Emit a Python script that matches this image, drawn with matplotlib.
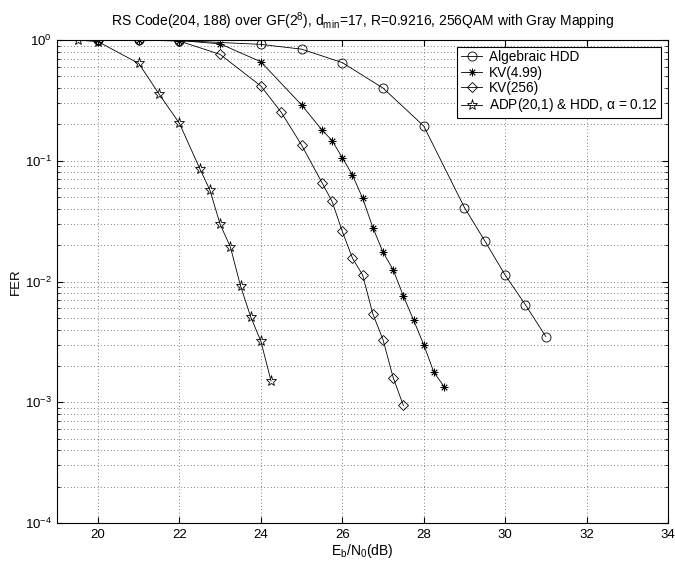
import matplotlib.pyplot as plt
from matplotlib.ticker import LogLocator, NullFormatter

plt.rcParams['font.family'] = ['Liberation Sans', 'DejaVu Sans']
plt.rcParams['mathtext.fontset'] = 'custom'
plt.rcParams['mathtext.rm'] = 'Liberation Sans'
plt.rcParams['mathtext.it'] = 'Liberation Sans'

# Algebraic HDD
snr_hdd = [20, 21, 22, 24, 25, 26, 27, 28, 29, 29.5, 30, 30.5, 31]
fer_hdd = [1.0, 1.0, 0.99, 0.92, 0.84, 0.65, 0.40, 0.194, 0.041, 0.0217, 0.0113, 0.0064, 0.0035]

# KV(4.99)
snr_kv5 = [20, 21, 22, 23, 24, 25, 25.5, 25.75, 26, 26.25, 26.5, 26.75, 27, 27.25, 27.5, 27.75, 28, 28.25, 28.5]
fer_kv5 = [1.0, 1.0, 0.99, 0.93, 0.66, 0.29, 0.18, 0.147, 0.106, 0.076, 0.049, 0.028, 0.0175, 0.0125,
           0.0076, 0.0048, 0.0030, 0.00177, 0.00135]

# KV(256)
snr_kv256 = [20, 21, 22, 23, 24, 24.5, 25, 25.5, 25.75, 26, 26.25, 26.5, 26.75, 27, 27.25, 27.5]
fer_kv256 = [1.0, 1.0, 0.98, 0.76, 0.416, 0.252, 0.135, 0.066, 0.046, 0.026, 0.0156, 0.0113, 0.0054,
             0.0033, 0.0016, 0.00094]

# ADP(20,1) & HDD
snr_adp = [19.5, 20, 21, 21.5, 22, 22.5, 22.75, 23, 23.25, 23.5, 23.75, 24, 24.25]
fer_adp = [1.0, 0.97, 0.64, 0.357, 0.204, 0.086, 0.057, 0.0297, 0.0194, 0.0092, 0.0051, 0.0032, 0.0015]

fig = plt.figure(figsize=(6.75, 5.62), dpi=100)
ax = fig.add_axes([0.0849, 0.0694, 0.9047, 0.8594])

kw = dict(color='black', linewidth=0.6, markerfacecolor='none', markeredgecolor='black',
          markeredgewidth=0.6)
ax.semilogy(snr_hdd, fer_hdd, marker='o', markersize=6.5, label='Algebraic HDD', **kw)
ax.semilogy(snr_kv5, fer_kv5, marker=(8, 2, 0), markersize=5.5, label='KV(4.99)', **kw)
ax.semilogy(snr_kv256, fer_kv256, marker='D', markersize=5, label='KV(256)', **kw)
ax.semilogy(snr_adp, fer_adp, marker='*', markersize=8, label=r'ADP(20,1) & HDD, $\alpha$ = 0.12', **kw)

ax.set_xlim(19, 34)
ax.set_ylim(1e-4, 1)
ax.set_xticks([20, 22, 24, 26, 28, 30, 32, 34])
ax.yaxis.set_major_locator(LogLocator(base=10, numticks=10))
ax.yaxis.set_minor_locator(LogLocator(base=10, subs=range(2, 10), numticks=10))
ax.yaxis.set_minor_formatter(NullFormatter())

gkw = dict(linestyle=(0, (1, 3)), color='#555555', linewidth=0.6)
ax.grid(True, which='major', axis='x', **gkw)
ax.grid(True, which='both', axis='y', **gkw)

ax.tick_params(which='both', direction='in', top=True, right=True, labelsize=9.5)
ax.tick_params(which='major', length=4, pad=4)
ax.tick_params(which='minor', length=2)
for s in ax.spines.values():
    s.set_linewidth(0.8)

ax.set_title(r'RS Code(204, 188) over GF(2$^8$), d$_{min}$=17, R=0.9216, 256QAM with Gray Mapping',
             fontsize=10, pad=10)
ax.set_xlabel(r'E$_b$/N$_0$(dB)', fontsize=10, labelpad=1)
ax.set_ylabel('FER', fontsize=9.5, labelpad=2)

leg = ax.legend(loc='upper right', fontsize=9.8, fancybox=False, framealpha=1, edgecolor='black',
                handlelength=1.6, borderaxespad=0.5, labelspacing=0.1, borderpad=0.25, handletextpad=0.5)
leg.get_frame().set_linewidth(0.8)

fig.savefig('out.png', dpi=100)
